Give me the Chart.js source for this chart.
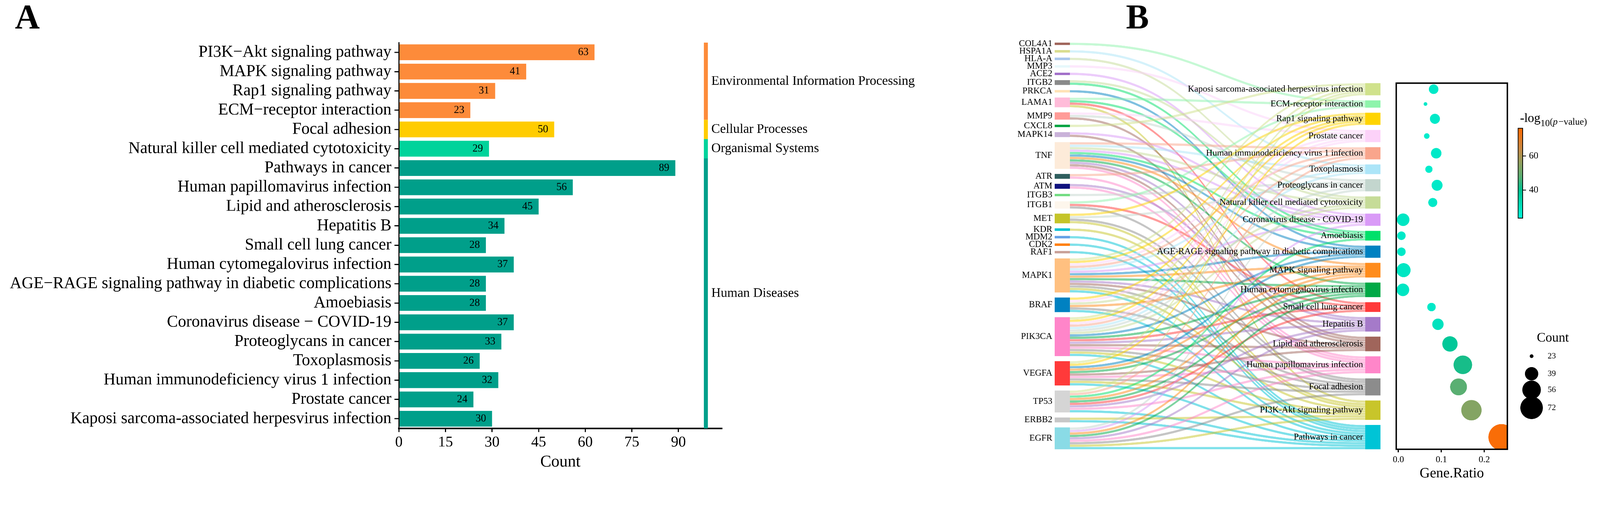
<!DOCTYPE html>
<html>
<head>
<meta charset="utf-8">
<script src="https://cdn.jsdelivr.net/npm/chart.js@4.4.1/dist/chart.umd.min.js"></script>
<style>
  html, body { margin: 0; padding: 0; background: #fff; overflow: hidden; }
  #page { width: 4280px; height: 1302px; position: relative; transform-origin: 0 0;
          font-family: "Liberation Serif", "Times New Roman", serif; }
  canvas { position: absolute; top: 0; }
  .tag { position: absolute; font-weight: bold; font-size: 92px; line-height: 1; }
</style>
</head>
<body>
<div id="page">
  <div class="tag" style="left:40px; top:-2px">A</div>
  <div class="tag" style="left:3012px; top:-2px">B</div>
  <canvas id="bars" width="2600" height="1302" style="left:0"></canvas>
  <canvas id="sankey" width="1100" height="1302" style="left:2650px"></canvas>
  <canvas id="dots" width="580" height="1302" style="left:3700px"></canvas>
</div>
<script>
// fit the 4280px design to whatever the viewport really is
document.getElementById("page").style.transform = `scale(${window.innerWidth / 4280})`

const SERIF = '"Liberation Serif", "Times New Roman", serif'
Chart.defaults.font.family = SERIF
Chart.defaults.color = "#000"

// ---- Panel A: KEGG counts ----
const barLabels = [
  "PI3K\u2212Akt signaling pathway", "MAPK signaling pathway", "Rap1 signaling pathway",
  "ECM\u2212receptor interaction", "Focal adhesion", "Natural killer cell mediated cytotoxicity",
  "Pathways in cancer", "Human papillomavirus infection", "Lipid and atherosclerosis", "Hepatitis B",
  "Small cell lung cancer", "Human cytomegalovirus infection",
  "AGE\u2212RAGE signaling pathway in diabetic complications", "Amoebiasis",
  "Coronavirus disease \u2212 COVID-19", "Proteoglycans in cancer", "Toxoplasmosis",
  "Human immunodeficiency virus 1 infection", "Prostate cancer",
  "Kaposi sarcoma-associated herpesvirus infection"
]
const barCounts = [63, 41, 31, 23, 50, 29, 89, 56, 45, 34, 28, 37, 28, 28, 37, 33, 26, 32, 24, 30]
const barGroups = [0, 0, 0, 0, 1, 2, 3, 3, 3, 3, 3, 3, 3, 3, 3, 3, 3, 3, 3, 3]
const groupNames = ["Environmental Information Processing", "Cellular Processes", "Organismal Systems", "Human Diseases"]
const groupColors = ["#fd8b3a", "#ffcc00", "#00d39b", "#009f8a"]
const countTicks = [0, 15, 30, 45, 60, 75, 90]

// ---- Panel B: gene -> pathway network ----
const genes = ["COL4A1", "HSPA1A", "HLA-A", "MMP3", "ACE2", "ITGB2", "PRKCA", "LAMA1", "MMP9", "CXCL8",
  "MAPK14", "TNF", "ATR", "ATM", "ITGB3", "ITGB1", "MET", "KDR", "MDM2", "CDK2", "RAF1", "MAPK1",
  "BRAF", "PIK3CA", "VEGFA", "TP53", "ERBB2", "EGFR"]
const geneColors = ["#a0665c", "#d9dd8f", "#a9c7ec", "#e7f8fb", "#a26fc9", "#8a8a8a", "#ffe2b5", "#ffbcd9",
  "#ff9c98", "#00a442", "#c9b2d9", "#fdebd9", "#2f5e5e", "#10127e", "#72dc82", "#fdf6ec", "#c4c42a",
  "#00c1d3", "#63a1e6", "#ff800e", "#c9a199", "#ffc080", "#0081c1", "#ff85c9", "#ff3a3a", "#d5d5d5",
  "#c7c7c7", "#8adbe6"]
const pathwayKeys = ["KSHV", "ECM", "Rap1", "Prostate", "HIV", "Toxo", "PG", "NK", "COVID", "Amoeb",
  "AGE", "MAPK", "HCMV", "SCLC", "HepB", "Lipid", "HPV", "Focal", "PI3K", "PiC"]
const pathwayNames = ["Kaposi sarcoma-associated herpesvirus infection", "ECM-receptor interaction",
  "Rap1 signaling pathway", "Prostate cancer", "Human immunodeficiency virus 1 infection", "Toxoplasmosis",
  "Proteoglycans in cancer", "Natural killer cell mediated cytotoxicity", "Coronavirus disease - COVID-19",
  "Amoebiasis", "AGE-RAGE signaling pathway in diabetic complications", "MAPK signaling pathway",
  "Human cytomegalovirus infection", "Small cell lung cancer", "Hepatitis B", "Lipid and atherosclerosis",
  "Human papillomavirus infection", "Focal adhesion", "PI3K-Akt signaling pathway", "Pathways in cancer"]
const pathwayColors = ["#d0e28c", "#8ef4ab", "#ffd400", "#fcd2f9", "#f9a58c", "#ace5f8", "#c3d6ce", "#c6dc98",
  "#d99af7", "#00e06a", "#0081c1", "#ff8c1c", "#00a946", "#ff3a3a", "#a57ac9", "#a0655b", "#ff86c9",
  "#8c8c8c", "#c8c52a", "#00c4d6"]
const geneLinks = {
  COL4A1: ["ECM"],
  HSPA1A: ["Toxo"],
  "HLA-A": ["NK"],
  MMP3: ["Prostate"],
  ACE2: ["COVID"],
  ITGB2: ["NK", "Amoeb"],
  PRKCA: ["AGE"],
  LAMA1: ["ECM", "Amoeb", "SCLC", "PI3K"],
  MMP9: ["Prostate", "PG", "Lipid"],
  CXCL8: ["KSHV"],
  MAPK14: ["COVID", "Lipid"],
  TNF: ["HIV", "Toxo", "NK", "COVID", "Amoeb", "AGE", "MAPK", "HCMV", "HepB", "Lipid", "HPV"],
  ATR: ["HIV", "HPV"],
  ATM: ["HepB", "HPV"],
  ITGB3: ["PG"],
  ITGB1: ["ECM", "SCLC", "Focal"],
  MET: ["Rap1", "PG", "Focal", "PI3K"],
  KDR: ["PI3K"],
  MDM2: ["PiC"],
  CDK2: ["PiC"],
  RAF1: ["PiC"],
  MAPK1: ["KSHV", "Rap1", "Prostate", "HIV", "Toxo", "COVID", "AGE", "MAPK", "HCMV", "HepB", "Lipid", "Focal", "PI3K", "PiC"],
  BRAF: ["Rap1", "Prostate", "NK", "MAPK", "Focal", "PiC"],
  PIK3CA: ["KSHV", "Rap1", "Prostate", "HIV", "Toxo", "PG", "NK", "AGE", "HCMV", "SCLC", "HepB", "Lipid", "HPV", "Focal", "PI3K", "PiC"],
  VEGFA: ["KSHV", "Rap1", "AGE", "MAPK", "HCMV", "Lipid", "HPV", "Focal", "PI3K", "PiC"],
  TP53: ["KSHV", "HIV", "Amoeb", "MAPK", "HCMV", "SCLC", "HepB", "HPV", "PiC"],
  ERBB2: ["PI3K", "PiC"],
  EGFR: ["PG", "COVID", "MAPK", "HCMV", "HepB", "HPV", "Focal", "PI3K", "PiC"]
}

// ---- Panel B: dot plot (same order as pathwayKeys) ----
const dotRatio = [0.082, 0.063, 0.085, 0.066, 0.088, 0.071, 0.090, 0.080, 0.011, 0.007,
  0.007, 0.012, 0.0105, 0.077, 0.092, 0.120, 0.150, 0.140, 0.170, 0.240]
const dotCount = [30, 23, 31, 24, 32, 26, 33, 29, 37, 28, 28, 41, 37, 28, 34, 45, 56, 50, 63, 89]
const dotLogP = [28, 28, 28, 27, 28, 27, 28, 28, 29, 28, 28, 29, 29, 28, 30, 38, 42, 48, 54, 75]
const ratioTicks = [0, 0.1, 0.2]
const sizeBreaks = [23, 39, 56, 72]
const logPTicks = [40, 60]

// colour ramp of the -log10(p) legend
const colorStops = [[23.6, "#00f7dc"], [40, "#00c290"], [48, "#5aaf72"], [56, "#92a05e"], [64, "#c78944"], [76.2, "#ff6a00"]]

const SANKEY_TOP = 114
const SANKEY_BOTTOM = 1201
const NODE_W = 0.047
const GAP = 2.08

function hexToRgb(h) {
  const n = parseInt(h.slice(1), 16)
  return [n >> 16, (n >> 8) & 255, n & 255]
}
function rgba(h, a) {
  const [r, g, b] = hexToRgb(h)
  return `rgba(${r},${g},${b},${a})`
}
function logPColor(v) {
  for (let i = 1; i < colorStops.length; i++) {
    const [v0, c0] = colorStops[i - 1], [v1, c1] = colorStops[i]
    if (v <= v1 || i === colorStops.length - 1) {
      const t = Math.max(0, Math.min(1, (v - v0) / (v1 - v0)))
      const a = hexToRgb(c0), b = hexToRgb(c1)
      return `rgb(${a.map((x, k) => Math.round(x + (b[k] - x) * t)).join(",")})`
    }
  }
}
const cMin = Math.min(...dotCount), cMax = Math.max(...dotCount)
const sizeOf = c => 5 + 30 * Math.pow((c - cMin) / (cMax - cMin), 0.6)

function sankeyLayout() {
  const pIndex = Object.fromEntries(pathwayKeys.map((k, i) => [k, i]))
  const links = []
  genes.forEach((g, gi) => geneLinks[g].forEach(k => links.push({ gi, pi: pIndex[k] })))
  const gCount = genes.map((_, gi) => links.filter(l => l.gi === gi).length)
  const pCount = pathwayKeys.map((_, pi) => links.filter(l => l.pi === pi).length)
  const total = links.length + (genes.length - 1) * GAP
  const pTotal = links.length + (pathwayKeys.length - 1) * GAP
  const gY = [], pY = []
  let acc = 0
  gCount.forEach(n => { gY.push(acc); acc += n + GAP })
  acc = total - pTotal
  pCount.forEach(n => { pY.push(acc); acc += n + GAP })
  const gFill = gY.slice(), pFill = pY.slice()
  links.slice().sort((a, b) => a.gi - b.gi || a.pi - b.pi).forEach(l => { l.sy = gFill[l.gi]++ })
  links.slice().sort((a, b) => a.pi - b.pi || a.gi - b.gi).forEach(l => { l.ty = pFill[l.pi]++ })
  return { links, gCount, pCount, gY, pY, total, pTop: total - pTotal }
}
const lay = sankeyLayout()
const DPR = 2

// ---------- Panel A ----------
const stripPlugin = {
  id: "strip",
  afterDatasetsDraw(chart) {
    const { ctx, scales: { x, y } } = chart
    const half = (y.getPixelForValue(1) - y.getPixelForValue(0)) / 2
    ctx.save()
    groupNames.forEach((name, g) => {
      const idx = barGroups.map((v, i) => (v === g ? i : -1)).filter(i => i >= 0)
      const top = y.getPixelForValue(idx[0]) - half
      const bottom = y.getPixelForValue(idx[idx.length - 1]) + half
      const left = x.getPixelForValue(98.2), right = x.getPixelForValue(99.5)
      ctx.fillStyle = groupColors[g]
      ctx.fillRect(left, top, right - left, bottom - top)
      ctx.fillStyle = "#000"
      ctx.font = `35px ${SERIF}`
      ctx.textAlign = "left"
      ctx.textBaseline = "middle"
      ctx.fillText(name, x.getPixelForValue(100.6), (top + bottom) / 2)
    })
    ctx.restore()
  }
}
const valuePlugin = {
  id: "values",
  afterDatasetsDraw(chart) {
    const { ctx } = chart
    ctx.save()
    ctx.font = `28px ${SERIF}`
    ctx.fillStyle = "#000"
    ctx.textAlign = "center"
    ctx.textBaseline = "middle"
    chart.getDatasetMeta(0).data.forEach((bar, i) => ctx.fillText(String(barCounts[i]), bar.x - 30, bar.y))
    ctx.restore()
  }
}

new Chart(document.getElementById("bars"), {
  type: "bar",
  data: {
    labels: barLabels,
    datasets: [{
      data: barCounts,
      backgroundColor: barGroups.map(g => groupColors[g]),
      categoryPercentage: 1,
      barPercentage: 0.82
    }]
  },
  options: {
    indexAxis: "y",
    responsive: false,
    animation: false,
    devicePixelRatio: DPR,
    layout: { padding: { top: 114, right: 2600 - 1931, bottom: 0, left: 0 } },
    plugins: { legend: { display: false }, tooltip: { enabled: false } },
    scales: {
      x: {
        min: 0,
        max: 104,
        afterBuildTicks: s => { s.ticks = countTicks.map(v => ({ value: v })) },
        afterFit: s => { s.height = 1302 - 1145 },
        border: { display: true, color: "#000", width: 4 },
        grid: { drawOnChartArea: false, drawTicks: true, tickLength: 10, color: "#000", lineWidth: 3 },
        ticks: { font: { size: 40 }, padding: 4, color: "#000" },
        title: { display: true, text: "Count", font: { size: 44 }, padding: { top: 0, bottom: 40 }, color: "#000" }
      },
      y: {
        afterFit: s => { s.width = 1067 },
        border: { display: true, color: "#000", width: 3 },
        grid: { offset: false, drawOnChartArea: false, drawTicks: true, tickLength: 12, color: "#000", lineWidth: 3 },
        ticks: { font: { size: 44 }, padding: 8, color: "#000", autoSkip: false }
      }
    }
  },
  plugins: [stripPlugin, valuePlugin]
})

// ---------- Panel B: sankey ----------
const sankeyPlugin = {
  id: "sankey",
  afterDatasetsDraw(chart) {
    const { ctx, scales: { x, y } } = chart
    const xg0 = x.getPixelForValue(0), xg1 = x.getPixelForValue(NODE_W)
    const xp0 = x.getPixelForValue(1 - NODE_W), xp1 = x.getPixelForValue(1)
    const xm = (xg1 + xp0) / 2
    const inset = 0.04
    ctx.save()
    lay.links.forEach(l => {
      const s0 = y.getPixelForValue(l.sy + inset), s1 = y.getPixelForValue(l.sy + 1 - inset)
      const t0 = y.getPixelForValue(l.ty + inset), t1 = y.getPixelForValue(l.ty + 1 - inset)
      ctx.beginPath()
      ctx.moveTo(xg1, s0)
      ctx.bezierCurveTo(xm, s0, xm, t0, xp0, t0)
      ctx.lineTo(xp0, t1)
      ctx.bezierCurveTo(xm, t1, xm, s1, xg1, s1)
      ctx.closePath()
      ctx.fillStyle = rgba(pathwayColors[l.pi], 0.5)
      ctx.fill()
    })
    ctx.font = `24px ${SERIF}`
    ctx.textAlign = "right"
    ctx.textBaseline = "middle"
    genes.forEach((g, i) => {
      const top = y.getPixelForValue(lay.gY[i]), bottom = y.getPixelForValue(lay.gY[i] + lay.gCount[i])
      ctx.fillStyle = geneColors[i]
      ctx.fillRect(xg0, top, xg1 - xg0, bottom - top)
      ctx.fillStyle = "#000"
      ctx.fillText(g, xg0 - 6, (top + bottom) / 2)
    })
    pathwayNames.forEach((p, i) => {
      const top = y.getPixelForValue(lay.pY[i]), bottom = y.getPixelForValue(lay.pY[i] + lay.pCount[i])
      ctx.fillStyle = pathwayColors[i]
      ctx.fillRect(xp0, top, xp1 - xp0, bottom - top)
      ctx.fillStyle = "#000"
      ctx.fillText(p, xp0 - 6, (top + bottom) / 2)
    })
    ctx.restore()
  }
}

new Chart(document.getElementById("sankey"), {
  type: "scatter",
  data: { datasets: [] },
  options: {
    responsive: false,
    animation: false,
    devicePixelRatio: DPR,
    layout: { padding: { left: 171, right: 57, top: SANKEY_TOP, bottom: 1302 - SANKEY_BOTTOM } },
    plugins: { legend: { display: false }, tooltip: { enabled: false } },
    scales: {
      x: { type: "linear", min: 0, max: 1, display: false },
      y: { type: "linear", min: 0, max: lay.total, reverse: true, display: false }
    }
  },
  plugins: [sankeyPlugin]
})

// ---------- Panel B: dot plot ----------
const DOT_LEFT = 3700
const boxPlugin = {
  id: "box",
  afterDraw(chart) {
    const { ctx, chartArea: a } = chart
    ctx.save()
    ctx.strokeStyle = "#000"
    ctx.lineWidth = 4
    ctx.strokeRect(a.left, a.top, a.right - a.left, a.bottom - a.top)
    ctx.restore()
  }
}
const legendPlugin = {
  id: "legends",
  afterDraw(chart) {
    const { ctx } = chart
    const X = v => v - DOT_LEFT
    ctx.save()
    // colour bar
    const bar = { left: 4061, width: 12, top: 343, bottom: 583 }
    const vTop = colorStops[colorStops.length - 1][0], vBot = colorStops[0][0]
    const yOf = v => bar.bottom - (v - vBot) / (vTop - vBot) * (bar.bottom - bar.top)
    const grad = ctx.createLinearGradient(0, bar.bottom, 0, bar.top)
    colorStops.forEach(([v, c]) => grad.addColorStop((v - vBot) / (vTop - vBot), c))
    ctx.fillStyle = grad
    ctx.fillRect(X(bar.left), bar.top, bar.width, bar.bottom - bar.top)
    ctx.strokeStyle = "#000"
    ctx.lineWidth = 2
    ctx.strokeRect(X(bar.left), bar.top, bar.width, bar.bottom - bar.top)
    ctx.fillStyle = "#000"
    ctx.font = `25px ${SERIF}`
    ctx.textAlign = "left"
    ctx.textBaseline = "middle"
    logPTicks.forEach(v => {
      const yy = yOf(v)
      ctx.beginPath()
      ctx.moveTo(X(bar.left + bar.width), yy)
      ctx.lineTo(X(bar.left + bar.width + 9), yy)
      ctx.stroke()
      ctx.fillText(String(v), X(4090), yy)
    })
    // colour bar title: -log10(p-value)
    ctx.textBaseline = "alphabetic"
    ctx.font = `34px ${SERIF}`
    let tx = X(4066)
    ctx.fillText("-log", tx, 326)
    tx += ctx.measureText("-log").width
    ctx.font = `25px ${SERIF}`
    ctx.fillText("10", tx, 337)
    tx += ctx.measureText("10").width
    ctx.font = `25px ${SERIF}`
    ctx.fillText("(", tx, 333)
    tx += ctx.measureText("(").width
    ctx.font = `italic 25px ${SERIF}`
    ctx.fillText("p", tx, 333)
    tx += ctx.measureText("p").width + 2
    ctx.font = `25px ${SERIF}`
    ctx.fillText("\u2212value)", tx, 333)
    // size legend
    ctx.font = `35px ${SERIF}`
    ctx.fillText("Count", X(4111), 913)
    const ys = [952, 999, 1042, 1090]
    ctx.font = `22px ${SERIF}`
    ctx.textBaseline = "middle"
    sizeBreaks.forEach((c, i) => {
      ctx.beginPath()
      ctx.arc(X(4097), ys[i], sizeOf(c), 0, Math.PI * 2)
      ctx.fill()
    })
    sizeBreaks.forEach((c, i) => ctx.fillText(String(c), X(4140), ys[i]))
    ctx.restore()
  }
}

const dotTop = SANKEY_TOP + (SANKEY_BOTTOM - SANKEY_TOP) * lay.pTop / lay.total
new Chart(document.getElementById("dots"), {
  type: "scatter",
  data: {
    datasets: [{
      data: dotRatio.map((r, i) => ({ x: r, y: lay.pY[i] + lay.pCount[i] / 2 })),
      pointRadius: c => sizeOf(dotCount[c.dataIndex]),
      pointBackgroundColor: c => logPColor(dotLogP[c.dataIndex]),
      pointBorderWidth: 0,
      clip: 0
    }]
  },
  options: {
    responsive: false,
    animation: false,
    devicePixelRatio: DPR,
    layout: { padding: { left: 35, right: 248, top: dotTop, bottom: 0 } },
    plugins: { legend: { display: false }, tooltip: { enabled: false } },
    scales: {
      x: {
        type: "linear",
        min: -0.005,
        max: 0.2535,
        afterBuildTicks: s => { s.ticks = ratioTicks.map(v => ({ value: v })) },
        afterFit: s => { s.height = 1302 - SANKEY_BOTTOM },
        border: { display: true, color: "#000", width: 4 },
        grid: { drawOnChartArea: false, drawTicks: true, tickLength: 8, color: "#000", lineWidth: 3 },
        ticks: { font: { size: 24 }, padding: 6, color: "#000", callback: v => Number(v).toFixed(1) },
        title: { display: true, text: "Gene.Ratio", font: { size: 38 }, padding: { top: 0, bottom: 13 }, color: "#000" }
      },
      y: { type: "linear", min: lay.pTop, max: lay.total, reverse: true, display: false }
    }
  },
  plugins: [boxPlugin, legendPlugin]
})
</script>
</body>
</html>
